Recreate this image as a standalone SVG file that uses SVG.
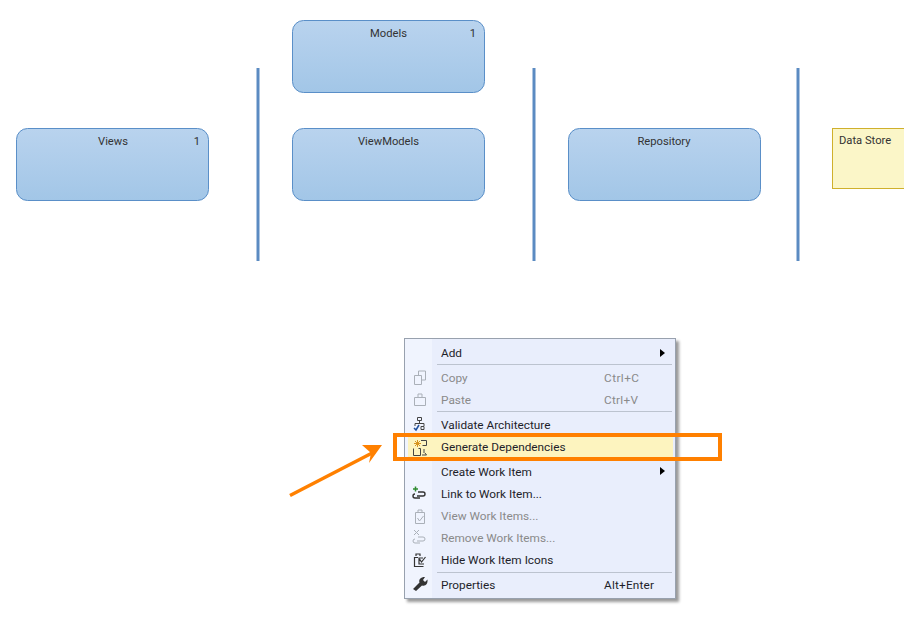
<svg xmlns="http://www.w3.org/2000/svg" width="904" height="638" viewBox="0 0 904 638">
<defs>
<linearGradient id="nodeFill" x1="0" y1="0" x2="0" y2="1"><stop offset="0" stop-color="#b9d3ee"/><stop offset="1" stop-color="#a2c6e7"/></linearGradient>
<filter id="shadow" x="-5%" y="-5%" width="112%" height="112%"><feDropShadow dx="3" dy="3" stdDeviation="1.5" flood-color="#000" flood-opacity="0.4"/></filter>
<style>
text{font-family:"Roboto","Open Sans","Liberation Sans",sans-serif;font-size:11.8px;fill:#1e1e1e}
.node{fill:url(#nodeFill);stroke:#5a8fc8;stroke-width:1}
.nt{fill:#333;font-size:11.2px}
.sep{stroke:#5b8bc2;stroke-width:3;fill:none}
.mi{fill:#1e1e2a}
.dis{fill:#8a8a8a}
.rule{stroke:#bcc3cf;stroke-width:1}
.ic{fill:none;stroke:#444;stroke-width:1}
.icd{fill:none;stroke:#aab0b8;stroke-width:1}
.ar{fill:#000}
</style>
</defs>
<g id="separators">
<line class="sep" x1="258" y1="68" x2="258" y2="261"/>
<line class="sep" x1="534" y1="68" x2="534" y2="261"/>
<line class="sep" x1="798" y1="68" x2="798" y2="261"/>
</g>
<g id="node-views"><rect class="node" x="16.5" y="128.5" width="192" height="72" rx="11"/><text class="nt" x="113" y="145" text-anchor="middle">Views</text><text class="nt" x="197" y="145" text-anchor="middle">1</text></g>
<g id="node-models"><rect class="node" x="292.5" y="20.5" width="192" height="72" rx="11"/><text class="nt" x="388.500" y="37" text-anchor="middle">Models</text><text class="nt" x="473" y="37" text-anchor="middle">1</text></g>
<g id="node-viewmodels"><rect class="node" x="292.5" y="128.500" width="192" height="72" rx="11"/><text class="nt" x="388.500" y="145" text-anchor="middle">ViewModels</text></g>
<g id="node-repository"><rect class="node" x="568.5" y="128.500" width="192" height="72" rx="11"/><text class="nt" x="664" y="145" text-anchor="middle">Repository</text></g>
<g id="node-datastore"><rect x="832.5" y="128.500" width="80" height="60" fill="#fbf6c8" stroke="#cfb02c"/><text class="nt" x="839" y="144">Data Store</text></g>
<g id="context-menu">
<rect x="404.500" y="338.500" width="271" height="260" fill="#e9eefc" stroke="#98a1ae" filter="url(#shadow)"/>
<rect x="405" y="339" width="27" height="259" fill="#f0f4fe"/>
<line class="rule" x1="437" y1="364.500" x2="672" y2="364.500"/>
<line class="rule" x1="437" y1="411.500" x2="672" y2="411.500"/>
<line class="rule" x1="437" y1="572.500" x2="672" y2="572.500"/>
<rect x="408" y="437" width="265" height="22" fill="#fdf4bf"/>
<text class="mi" x="441" y="357">Add</text><polygon class="ar" points="660,349 660,357 665,353"/>
<text class="dis" x="441" y="382">Copy</text><text class="dis" x="604" y="382" textLength="35">Ctrl+C</text>
<text class="dis" x="441" y="404">Paste</text><text class="dis" x="604" y="404" textLength="34">Ctrl+V</text>
<text class="mi" x="441" y="429">Validate Architecture</text>
<text class="mi" x="441" y="451">Generate Dependencies</text>
<text class="mi" x="441" y="476">Create Work Item</text><polygon class="ar" points="660,467 660,475 665,471"/>
<text class="mi" x="441" y="498">Link to Work Item...</text>
<text class="dis" x="441" y="520">View Work Items...</text>
<text class="dis" x="441" y="542">Remove Work Items...</text>
<text class="mi" x="441" y="564">Hide Work Item Icons</text>
<text class="mi" x="441" y="589">Properties</text><text class="mi" x="604" y="589" textLength="50">Alt+Enter</text>
<g id="menu-icons">
<path class="icd" d="M414.500 375.500h7v9h-7zM418.500 375v-4h7v9h-4"/>
<path class="icd" d="M414.500 397.500h11v8h-11zM418 397v-3h4v3"/>
<path class="ic" d="M417.500 417.500h4v3h-4zM419.500 420.500v3M415 426v-2.500h9v2.500"/>
<path d="M414 428l2 2 3-5" fill="none" stroke="#1f4f9c" stroke-width="1.500"/>
<path class="ic" d="M421 426.500h3v3h-3z"/>
<path class="ic" d="M421 440.500h5.500v5h-4M413.500 448.500v7h7v-7h-2M424 449v4M422 455h4.500l-1.500-2"/>
<path d="M417.500 440v7M414 443.500h7M415 441l5 5M420 441l-5 5" stroke="#d8941e" stroke-width="1"/>
<path d="M413 489h5M415.500 486.500v5" stroke="#2f8a2f" stroke-width="1.500"/>
<path d="M418 492h5a2 2 0 0 1 0 4h-6M420 498h-5a2 2 0 0 1 0-4" fill="none" stroke="#333" stroke-width="1.400"/>
<path class="icd" d="M415.500 512.500h9v11h-9zM418 512v-2h4v2M417.500 518l2 3 4-5"/>
<path d="M414 530l5 5M419 530l-5 5" stroke="#aab0b8"/>
<path class="icd" d="M418 537h5a2 2 0 0 1 0 4h-6M420 543h-5a2 2 0 0 1 0-4"/>
<path d="M418 557.500h-3.500v9h9M416 556v-2h4v2M423 558h-4v6h5M419.500 559l2 3 4-5" fill="none" stroke="#333" stroke-width="1.200"/>
<path d="M413 589l6.500-6.500c-1-3 1-5.500 5.500-5.500l-2 3 2 2 2.500-2.500c.5 4.500-2 7-5.500 6l-6 5.500z" fill="#333"/>
</g>
</g>
<g id="connectors">
<rect x="395" y="435" width="325" height="24" fill="none" stroke="#ff8000" stroke-width="4"/>
<line x1="290" y1="495.500" x2="375" y2="451.500" stroke="#ff8000" stroke-width="3.500"/>
<polygon points="362,445 382,445 369,463 371,453" fill="#ff8000"/>
</g>
</svg>
